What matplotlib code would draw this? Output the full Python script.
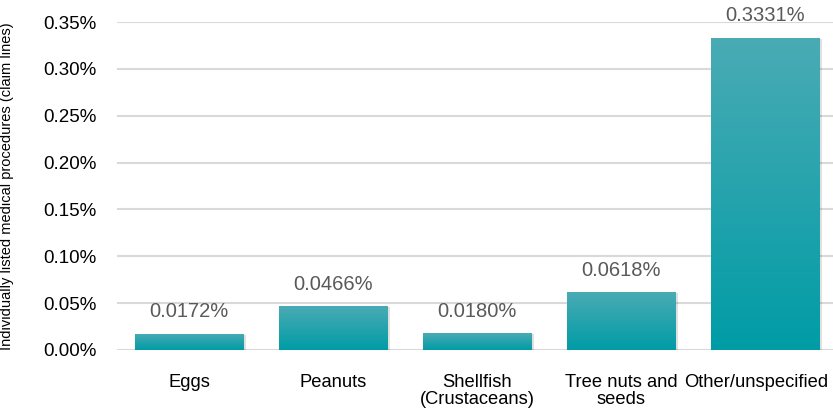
import numpy as np
import matplotlib.pyplot as plt
import matplotlib.transforms as mtransforms
from matplotlib.colors import LinearSegmentedColormap
from matplotlib.ticker import FuncFormatter

plt.rcParams['font.family'] = ['Liberation Sans', 'DejaVu Sans']

categories = ['Eggs', 'Peanuts', 'Shellfish\n(Crustaceans)', 'Tree nuts and\nseeds', 'Other/unspecified']
values = [0.0172, 0.0466, 0.0180, 0.0618, 0.3331]
labels = ['0.0172%', '0.0466%', '0.0180%', '0.0618%', '0.3331%']
yticks = [0.00, 0.05, 0.10, 0.15, 0.20, 0.25, 0.30, 0.35]

fig = plt.figure(figsize=(8.33, 4.13), dpi=100)
ax = fig.add_axes([117 / 833, 1 - 350 / 413, (833 - 117) / 833, (350 - 22) / 413])

x = np.arange(len(categories))
width = 0.75

# gradient from lighter teal at top to deeper teal at bottom
cmap = LinearSegmentedColormap.from_list('teal', ['#009CA6', '#4AABB4'])
grad = np.linspace(0, 1, 256).reshape(-1, 1)

bars = ax.bar(x, values, width=width, color='#1AA3AC', zorder=3)
for b in bars:
    # soft shadow
    ax.bar(b.get_x() + b.get_width() / 2 + 0.02, b.get_height(), width=width,
           bottom=-0.001, color='#000000', alpha=0.12, zorder=2)
    im = ax.imshow(grad, cmap=cmap, aspect='auto', origin='lower',
                   extent=[b.get_x(), b.get_x() + b.get_width(), 0, b.get_height()],
                   zorder=4)
    im.set_clip_path(b)

for xi, v, lab in zip(x, values, labels):
    ax.annotate(lab, (xi, v), xytext=(0, 9), textcoords='offset points',
                ha='center', va='bottom', fontsize=14.5, color='#595959')

ax.set_xlim(-0.5, 4.47)
ax.set_ylim(0, 0.35)
ax.set_yticks(yticks)
ax.yaxis.set_major_formatter(FuncFormatter(lambda v, p: f'{v:.2f}%'))
ax.set_xticks(x)
ax.set_xticklabels(categories, fontsize=13.2, linespacing=1.05)
ax.tick_params(axis='y', labelsize=13.5, length=0, pad=15)
ax.tick_params(axis='x', length=0, pad=17)
ax.grid(axis='y', color='#D9D9D9', linewidth=1.5, zorder=0)
for s in ax.spines.values():
    s.set_visible(False)
ax.set_ylabel('Individually listed medical procedures (claim lines)', fontsize=10.5)
ax.yaxis.set_label_coords(-117 / 716 + 14 / 716, 0.5)

# nudge last category label left so it stays inside the figure
last = ax.get_xticklabels()[-1]
last.set_transform(last.get_transform() + mtransforms.ScaledTranslation(-0.09, 0, fig.dpi_scale_trans))

fig.savefig('out.png', dpi=100)
